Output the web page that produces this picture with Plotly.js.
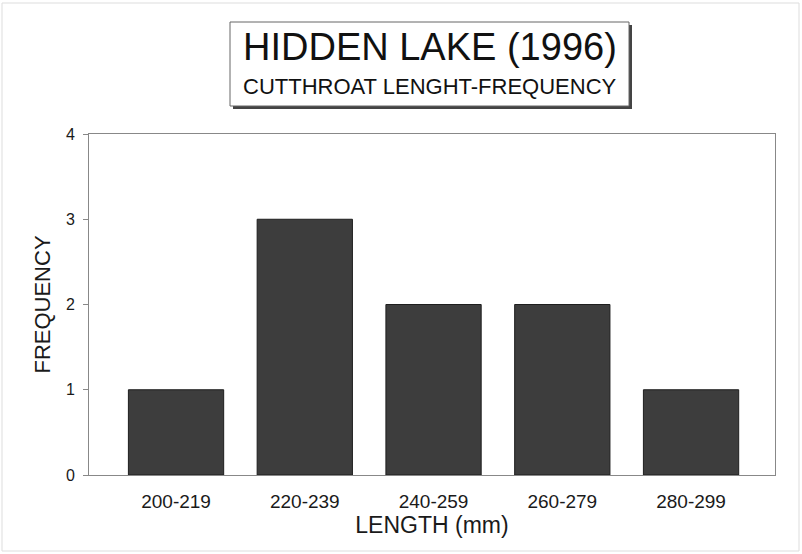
<!DOCTYPE html>
<html>
<head>
<meta charset="utf-8">
<script src="https://cdn.plot.ly/plotly-3.0.1.min.js"></script>
<style>html,body{margin:0;padding:0;background:#fff;}#chart{width:802px;height:554px;}</style>
</head>
<body>
<div id="chart"></div>
<script>
var categories = ["200-219", "220-239", "240-259", "260-279", "280-299"];
var frequency = [1, 3, 2, 2, 1];
var yTicks = [0, 1, 2, 3, 4];

var W = 802, H = 554, L = 89, R = 27, T = 134, B = 79;
var pw = W - L - R, ph = H - T - B;
function px(x) { return (x - L) / pw; }
function py(y) { return (H - B - y) / ph; }

var trace = {
  type: "bar",
  x: categories,
  y: frequency,
  width: 0.74,
  marker: {color: "#3d3d3d", line: {color: "#1e1e1e", width: 1}},
  hoverinfo: "x+y"
};

var layout = {
  width: W, height: H,
  paper_bgcolor: "#ffffff", plot_bgcolor: "#ffffff",
  margin: {l: L, r: R, t: T, b: B},
  showlegend: false,
  font: {family: "Arial, Liberation Sans, sans-serif", color: "#1a1a1a"},
  xaxis: {
    type: "category",
    range: [-0.676, 4.652],
    showline: true, linecolor: "#888", linewidth: 1, mirror: true,
    ticks: "", showgrid: false, zeroline: false,
    tickfont: {size: 19, color: "#1a1a1a"},
    ticklabelstandoff: 9,
    title: {text: "LENGTH (mm)", font: {size: 23, color: "#1a1a1a"}, standoff: 1}
  },
  yaxis: {
    range: [0, 4],
    tickvals: yTicks,
    ticktext: yTicks.map(String),
    showline: true, linecolor: "#888", linewidth: 1, mirror: true,
    ticks: "outside", ticklen: 5, tickcolor: "#888",
    showgrid: false, zeroline: false,
    tickfont: {size: 16, color: "#1a1a1a"},
    ticklabelstandoff: 5,
    title: {text: "FREQUENCY", font: {size: 22, color: "#1a1a1a"}, standoff: 9}
  },
  shapes: [
    {type: "rect", xref: "paper", yref: "paper", x0: px(233), x1: px(632), y0: py(109), y1: py(25),
     fillcolor: "#444", line: {width: 0}},
    {type: "rect", xref: "paper", yref: "paper", x0: px(230), x1: px(629), y0: py(106), y1: py(22),
     fillcolor: "#fff", line: {color: "#666", width: 1}},
    {type: "rect", xref: "paper", yref: "paper", x0: px(2), x1: px(799), y0: py(551), y1: py(3),
     fillcolor: "rgba(0,0,0,0)", line: {color: "#dddddd", width: 1}}
  ],
  annotations: [
    {text: "HIDDEN LAKE (1996)", xref: "paper", yref: "paper", x: px(430), y: py(47),
     showarrow: false, font: {size: 38, color: "#111"}, xanchor: "center", yanchor: "middle"},
    {text: "CUTTHROAT LENGHT-FREQUENCY", xref: "paper", yref: "paper", x: px(430), y: py(87),
     showarrow: false, font: {size: 22, color: "#111"}, xanchor: "center", yanchor: "middle"}
  ]
};

Plotly.newPlot("chart", [trace], layout, {displayModeBar: false, staticPlot: true});
</script>
</body>
</html>
